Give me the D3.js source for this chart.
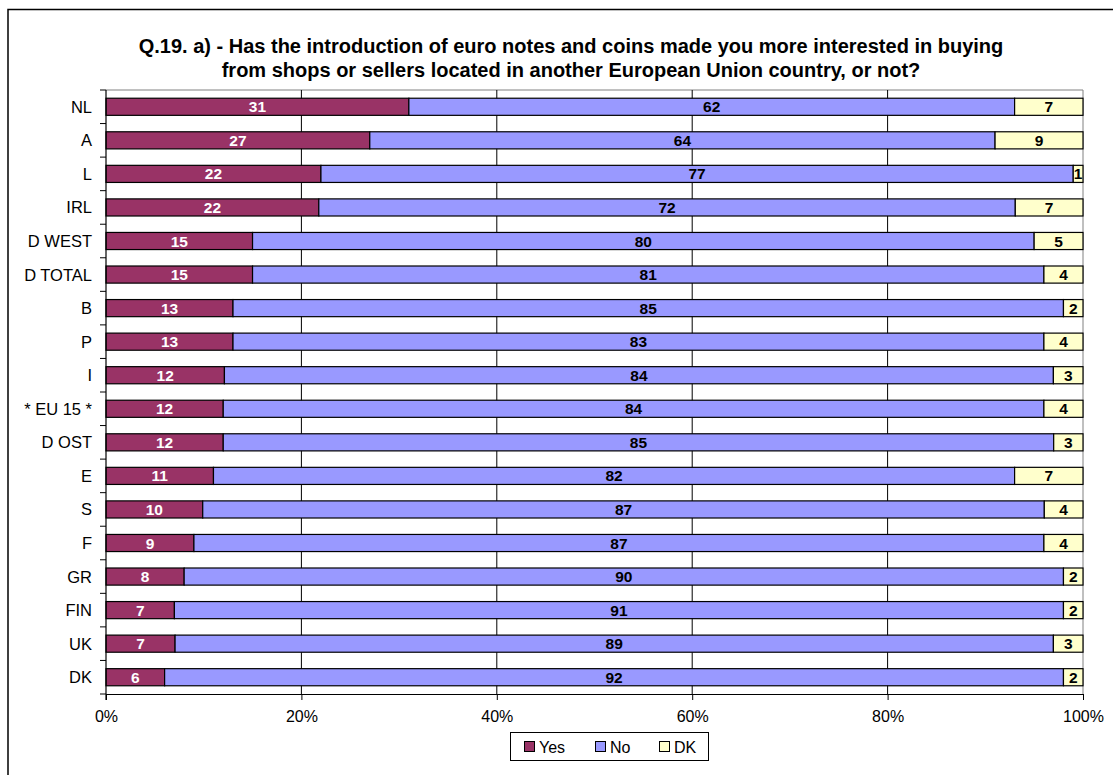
<!DOCTYPE html>
<html><head><meta charset="utf-8">
<script src="https://cdn.jsdelivr.net/npm/d3@7"></script>
<style>body{margin:0;background:#fff}svg{display:block;font-family:Arial,"Liberation Sans",sans-serif}</style>
</head><body><svg id="c" width="1113" height="775"></svg>
<script>
const categories = ["NL","A","L","IRL","D WEST","D TOTAL","B","P","I","* EU 15 *","D OST","E","S","F","GR","FIN","UK","DK"];
const yesValues = [31,27,22,22,15,15,13,13,12,12,12,11,10,9,8,7,7,6];
const noValues  = [62,64,77,72,80,81,85,83,84,84,85,82,87,87,90,91,89,92];
const dkValues  = [7,9,1,7,5,4,2,4,3,4,3,7,4,4,2,2,3,2];
const seriesNames = ["Yes","No","DK"];
const seriesColors = ["#993366","#9999FF","#FFFFCC"];
const labelColors = ["#fff","#000","#000"];
const xTicks = [0,20,40,60,80,100];
const titleLines = ["Q.19. a) - Has the introduction of euro notes and coins made you more interested in buying",
                    "from shops or sellers located in another European Union country, or not?"];

const svg = d3.select("#c");
// outer frame
svg.append("rect").attr("x",8).attr("y",9.5).attr("width",1120).attr("height",800)
  .attr("fill","none").attr("stroke","#000").attr("stroke-width",1.5);

const L=106, R=1083, T=90, B=694;
const x = d3.scaleLinear().domain([0,100]).range([L,R]);
const y = d3.scaleBand().domain(categories).range([T,B]).paddingInner(0.49).paddingOuter(0.245);

// title
svg.append("g").selectAll("text").data(titleLines).join("text")
  .attr("x",571).attr("y",(d,i)=>53+i*24).attr("text-anchor","middle")
  .attr("font-size","20px").attr("font-weight","bold").attr("fill","#000").text(d=>d);

// plot border (top/right gray)
svg.append("path").attr("d",`M${L},${T}H${R}V${B}`).attr("fill","none").attr("stroke","#808080").attr("stroke-width",1);
// gridlines
svg.append("g").selectAll("line").data(xTicks.filter(t=>t>0&&t<100)).join("line")
  .attr("x1",d=>x(d)).attr("x2",d=>x(d)).attr("y1",T).attr("y2",B)
  .attr("stroke","#000").attr("stroke-width",1);

// stacked data
const rows = categories.map((c,i)=>{
  const v=[yesValues[i],noValues[i],dkValues[i]];
  const s=d3.sum(v); let acc=0;
  return v.map((val,k)=>{const x0=acc/s*100; acc+=val; return {cat:c,k,val,x0,x1:acc/s*100};});
});
const segs = rows.flat();
svg.append("g").selectAll("rect").data(segs).join("rect")
  .attr("x",d=>x(d.x0)).attr("width",d=>x(d.x1)-x(d.x0))
  .attr("y",d=>y(d.cat)).attr("height",y.bandwidth())
  .attr("fill",d=>seriesColors[d.k]).attr("stroke","#000").attr("stroke-width",1.2);
svg.append("g").selectAll("text").data(segs).join("text")
  .attr("x",d=>(x(d.x0)+x(d.x1))/2).attr("y",d=>y(d.cat)+y.bandwidth()/2+5.5)
  .attr("text-anchor","middle").attr("font-size","15.5px").attr("font-weight","bold")
  .attr("fill",d=>labelColors[d.k]).text(d=>d.val);

// x axis
const xAxis = d3.axisBottom(x).tickValues(xTicks).tickFormat(d=>d+"%").tickSize(6).tickSizeOuter(0);
const gx = svg.append("g").attr("transform",`translate(0,${B})`).call(xAxis);
gx.select(".domain").attr("stroke","#000").attr("stroke-width",1.2);
gx.selectAll(".tick line").attr("stroke","#000");
gx.selectAll("text").attr("font-size","16px").attr("fill","#000").attr("dy","1.2em").attr("font-family","Arial,'Liberation Sans',sans-serif");

// y axis
const gy = svg.append("g").attr("transform",`translate(${L},0)`);
gy.append("line").attr("x1",0).attr("x2",0).attr("y1",T).attr("y2",B+6).attr("stroke","#000").attr("stroke-width",1.2);
const bounds = d3.range(categories.length+1).map(i=>T+i*(B-T)/categories.length);
gy.selectAll("line.t").data(bounds).join("line").attr("class","t")
  .attr("x1",-6).attr("x2",0).attr("y1",d=>d).attr("y2",d=>d).attr("stroke","#000");
gy.selectAll("text").data(categories).join("text")
  .attr("x",-14).attr("y",d=>y(d)+y.bandwidth()/2+6).attr("text-anchor","end")
  .attr("font-size","16.5px").attr("fill","#000").text(d=>d);

// legend
const lg = svg.append("g");
lg.append("rect").attr("x",510.5).attr("y",732.5).attr("width",198).attr("height",28)
  .attr("fill","#fff").attr("stroke","#000").attr("stroke-width",1);
const lx=[524,595,659];
seriesNames.forEach((n,i)=>{
  lg.append("rect").attr("x",lx[i]+0.5).attr("y",741.5).attr("width",10).attr("height",10)
    .attr("fill",seriesColors[i]).attr("stroke","#000");
  lg.append("text").attr("x",lx[i]+15).attr("y",753).attr("font-size","16px").attr("fill","#000").text(n);
});
</script></body></html>
